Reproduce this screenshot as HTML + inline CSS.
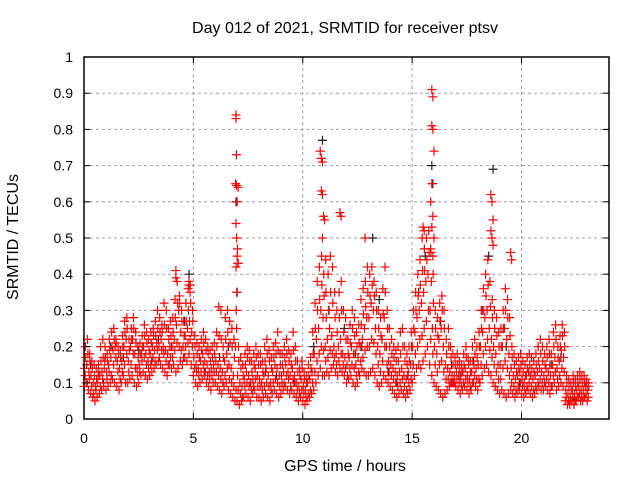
<!DOCTYPE html>
<html><head><meta charset="utf-8"><style>
html,body{margin:0;padding:0;background:#fff}
svg{display:block;font-family:"Liberation Sans",sans-serif}
</style></head><body>
<svg id="chart" width="640" height="480" viewBox="0 0 640 480">
<rect width="640" height="480" fill="#fff"/>
<g id="grid"></g>
<g id="black"></g>
<g id="red"></g>
<g id="axes"></g>
<text x="345" y="33" font-size="16" text-anchor="middle" fill="#000">Day 012 of 2021, SRMTID for receiver ptsv</text>
<text x="345" y="471" font-size="16" text-anchor="middle" fill="#000">GPS time / hours</text>
<text x="18" y="237" font-size="16" text-anchor="middle" fill="#000" transform="rotate(-90 18 237)">SRMTID / TECUs</text>
</svg>
<script>
const xTicks=[0,5,10,15,20];
const yTicks=[0,0.1,0.2,0.3,0.4,0.5,0.6,0.7,0.8,0.9,1];
const yTickLabels=["0","0.1","0.2","0.3","0.4","0.5","0.6","0.7","0.8","0.9","1"];
const slotStep=0.1;
const redLo=[.09,.1,.08,.07,.06,.05,.06,.07,.08,.09,
.08,.09,.1,.11,.1,.09,.08,.1,.12,.1,
.1,.11,.12,.1,.09,.1,.12,.13,.12,.11,
.12,.13,.14,.15,.16,.15,.14,.13,.12,.15,
.14,.15,.13,.14,.16,.15,.17,.16,.18,.15,
.12,.1,.09,.1,.11,.12,.1,.09,.08,.1,
.1,.09,.08,.07,.09,.1,.08,.07,.06,.05,
.05,.04,.05,.06,.07,.06,.05,.07,.08,.06,
.06,.05,.06,.07,.06,.05,.07,.08,.07,.06,
.07,.08,.09,.08,.07,.08,.07,.06,.05,.06,
.05,.04,.05,.06,.07,.08,.1,.12,.14,.12,
.12,.13,.12,.14,.15,.13,.12,.14,.13,.12,
.1,.11,.12,.1,.09,.1,.12,.14,.13,.12,
.12,.13,.14,.12,.1,.09,.1,.12,.11,.1,
.09,.08,.07,.06,.07,.08,.07,.06,.07,.08,
.1,.12,.14,.15,.14,.16,.18,.2,.15,.12,
.1,.09,.08,.07,.06,.07,.08,.09,.1,.1,
.09,.08,.07,.08,.09,.08,.07,.08,.1,.09,
.08,.1,.12,.14,.15,.13,.12,.1,.09,.08,
.07,.08,.07,.06,.07,.08,.07,.06,.07,.08,
.07,.06,.07,.08,.07,.06,.07,.08,.09,.08,
.08,.09,.08,.07,.09,.1,.08,.09,.1,.09,
.05,.04,.04,.05,.04,.05,.06,.05,.05,.06,.05];
const redQ1=[.12,.1,.11,.09,.07,.08,.12,.09,.11,.16,
.11,.13,.12,.15,.17,.13,.11,.13,.15,.18,
.13,.15,.18,.14,.12,.13,.16,.17,.15,.14,
.15,.17,.16,.19,.17,.19,.18,.16,.15,.17,
.17,.19,.21,.2,.19,.17,.2,.21,.22,.2,
.14,.13,.12,.13,.15,.13,.12,.11,.12,.13,
.13,.12,.11,.1,.12,.14,.11,.1,.09,.08,
.08,.07,.06,.09,.1,.09,.08,.09,.11,.09,
.09,.08,.09,.1,.09,.08,.1,.11,.1,.09,
.1,.1,.12,.11,.09,.11,.1,.08,.07,.08,
.07,.06,.07,.08,.1,.13,.16,.18,.2,.19,
.16,.17,.19,.18,.17,.15,.16,.18,.15,.14,
.12,.14,.15,.14,.12,.13,.16,.17,.19,.2,
.2,.22,.21,.18,.15,.13,.16,.2,.15,.13,
.12,.11,.1,.09,.1,.11,.09,.08,.1,.11,
.15,.18,.2,.22,.23,.25,.27,.3,.22,.18,
.15,.13,.15,.16,.13,.11,.11,.1,.1,.1,
.11,.1,.09,.1,.11,.1,.09,.1,.12,.11,
.11,.15,.18,.2,.22,.19,.17,.15,.13,.11,
.11,.14,.16,.14,.12,.1,.09,.08,.09,.1,
.09,.08,.09,.1,.09,.08,.09,.1,.11,.1,
.1,.11,.1,.09,.12,.13,.11,.12,.14,.13,
.06,.05,.05,.06,.05,.06,.07,.06,.06,.07,.06];
const redMid=[.14,.15,.13,.12,.1,.09,.1,.12,.13,.14,
.13,.15,.17,.19,.2,.16,.14,.16,.2,.22,
.16,.2,.22,.18,.14,.15,.18,.2,.18,.16,
.18,.2,.19,.21,.2,.22,.2,.19,.18,.2,
.2,.22,.26,.3,.24,.2,.23,.25,.27,.24,
.17,.15,.14,.16,.18,.16,.15,.13,.14,.15,
.16,.15,.14,.13,.16,.18,.15,.14,.12,.2,
.12,.1,.09,.11,.13,.12,.1,.11,.14,.12,
.11,.1,.12,.14,.12,.1,.13,.15,.14,.12,
.12,.13,.15,.13,.12,.14,.12,.1,.09,.11,
.09,.08,.1,.11,.13,.18,.22,.25,.3,.28,
.2,.22,.25,.23,.2,.18,.2,.22,.18,.17,
.15,.17,.2,.18,.15,.17,.2,.22,.25,.28,
.28,.32,.3,.25,.2,.18,.22,.28,.2,.16,
.15,.14,.13,.12,.13,.14,.12,.11,.13,.15,
.2,.24,.28,.3,.32,.35,.38,.4,.3,.25,
.2,.18,.22,.25,.2,.15,.14,.13,.12,.12,
.13,.12,.11,.13,.14,.12,.11,.13,.15,.14,
.15,.2,.24,.28,.3,.25,.22,.2,.18,.15,
.15,.2,.25,.22,.18,.14,.12,.11,.12,.13,
.11,.1,.12,.13,.12,.11,.12,.13,.14,.13,
.12,.14,.13,.12,.15,.17,.14,.16,.19,.17,
.08,.07,.06,.08,.07,.08,.09,.08,.08,.09,.08];
const redQ3=[.17,.18,.16,.14,.12,.11,.13,.16,.17,.17,
.16,.19,.2,.22,.21,.18,.17,.2,.24,.25,
.19,.22,.25,.21,.17,.18,.2,.23,.21,.19,
.21,.23,.23,.25,.24,.24,.26,.25,.22,.23,
.24,.28,.32,.32,.27,.23,.27,.3,.32,.27,
.2,.18,.17,.19,.21,.19,.18,.16,.17,.18,
.2,.23,.22,.17,.22,.24,.21,.2,.17,.25,
.16,.14,.12,.15,.17,.16,.13,.15,.17,.15,
.15,.13,.16,.18,.16,.14,.17,.18,.19,.15,
.15,.17,.18,.16,.15,.19,.16,.13,.12,.14,
.11,.1,.12,.14,.18,.25,.3,.33,.37,.34,
.28,.3,.35,.32,.28,.24,.28,.3,.24,.22,
.18,.21,.25,.23,.2,.21,.26,.29,.31,.35,
.34,.37,.34,.3,.25,.23,.29,.35,.25,.2,
.18,.17,.16,.16,.18,.2,.16,.15,.16,.2,
.25,.3,.34,.37,.41,.41,.44,.46,.38,.32,
.25,.23,.27,.3,.25,.18,.2,.17,.15,.15,
.15,.14,.13,.15,.17,.15,.13,.16,.18,.17,
.2,.25,.3,.34,.37,.31,.28,.25,.23,.2,
.2,.25,.3,.28,.23,.17,.15,.13,.14,.15,
.13,.12,.14,.15,.14,.13,.15,.16,.18,.16,
.15,.17,.18,.15,.2,.22,.17,.2,.23,.2,
.1,.09,.08,.1,.09,.1,.11,.1,.1,.1,.09];
const redHi=[.2,.22,.18,.16,.15,.14,.15,.2,.22,.2,
.18,.22,.24,.25,.22,.2,.19,.23,.27,.28,
.22,.25,.28,.24,.2,.21,.23,.26,.24,.22,
.24,.25,.27,.3,.28,.26,.32,.3,.25,.27,
.28,.33,.38,.34,.3,.27,.32,.36,.37,.3,
.23,.21,.2,.22,.24,.22,.2,.19,.2,.21,
.24,.31,.3,.2,.28,.3,.27,.25,.22,.3,
.2,.17,.15,.18,.2,.19,.16,.18,.2,.18,
.18,.16,.2,.22,.19,.17,.2,.21,.24,.18,
.18,.2,.22,.19,.18,.24,.2,.16,.14,.16,
.13,.12,.15,.17,.24,.32,.38,.42,.45,.4,
.35,.4,.45,.42,.35,.3,.35,.38,.3,.28,
.22,.26,.3,.28,.24,.26,.33,.36,.38,.42,
.4,.42,.38,.35,.3,.28,.36,.42,.3,.25,
.22,.2,.19,.2,.24,.25,.2,.18,.2,.24,
.3,.35,.4,.44,.5,.47,.5,.52,.46,.4,
.3,.28,.32,.34,.3,.22,.25,.2,.18,.17,
.18,.16,.15,.18,.2,.17,.16,.2,.22,.2,
.24,.3,.36,.4,.44,.38,.33,.3,.28,.24,
.25,.3,.36,.33,.28,.2,.18,.16,.17,.18,
.16,.15,.17,.18,.17,.16,.18,.2,.22,.2,
.18,.2,.22,.18,.24,.26,.2,.23,.26,.24,
.12,.11,.1,.12,.11,.12,.13,.12,.12,.11,.1];
const spikeT=[4.2,4.2,4.8,4.8,4.85,6.95,6.95,6.97,6.93,6.97,7.0,6.95,6.98,7.02,7.0,7.03,6.95,6.98,7.05,7.05,
10.8,10.85,10.9,10.85,10.9,10.95,11.0,10.9,11.05,11.7,11.75,12.85,
15.5,15.55,15.9,15.95,15.9,15.95,16.0,15.9,15.85,15.95,15.9,16.0,15.85,15.95,
18.6,18.65,18.7,18.6,18.65,18.7,19.5,19.55];
const spikeV=[0.41,0.39,0.38,0.37,0.35,0.84,0.83,0.73,0.65,0.645,0.6,0.54,0.5,0.47,0.45,0.43,0.42,0.35,0.64,0.43,
0.74,0.72,0.71,0.63,0.62,0.56,0.55,0.5,0.44,0.57,0.56,0.5,
0.53,0.52,0.91,0.89,0.81,0.8,0.74,0.65,0.6,0.56,0.53,0.5,0.47,0.45,
0.62,0.6,0.55,0.52,0.5,0.48,0.46,0.44];
const blackT=[0.3,0.9,1.2,1.8,2.5,3.1,3.4,4.0,4.6,4.8,5.5,6.2,6.6,6.95,7.0,7.6,8.3,8.8,9.6,10.5,10.9,11.2,11.9,12.4,12.7,13.2,13.5,13.9,14.3,14.8,15.3,15.6,15.9,15.95,16.3,16.8,17.2,17.8,18.2,18.5,18.7,19.3,19.9,20.4,21.3,21.8,22.4];
const blackV=[0.15,0.1,0.2,0.17,0.19,0.16,0.22,0.2,0.27,0.4,0.13,0.17,0.2,0.6,0.35,0.1,0.13,0.12,0.1,0.2,0.77,0.3,0.25,0.18,0.2,0.5,0.33,0.13,0.1,0.12,0.35,0.45,0.7,0.65,0.27,0.15,0.12,0.16,0.3,0.45,0.69,0.2,0.1,0.12,0.15,0.17,0.05];

const X0=84,X1=609,Y0=419,Y1=57;
const xs=t=>X0+(t/24)*(X1-X0);
const ys=v=>Y0-v*(Y0-Y1);
const NS='http://www.w3.org/2000/svg';
function mk(tag,attrs,parent){const e=document.createElementNS(NS,tag);for(const k in attrs)e.setAttribute(k,attrs[k]);parent.appendChild(e);return e;}
const grid=document.getElementById('grid'),axes=document.getElementById('axes');
xTicks.forEach(t=>{
  if(t>0){const l=mk('line',{x1:xs(t),x2:xs(t),y1:Y0,y2:Y1,stroke:'#a0a0a0','stroke-width':1,'stroke-dasharray':'3,3'},grid);
  
  }
  const a=mk('line',{x1:xs(t),x2:xs(t),y1:Y0,y2:Y0-6,stroke:'#000'},axes);
  
  
  const b=mk('line',{x1:xs(t),x2:xs(t),y1:Y1,y2:Y1+6,stroke:'#000'},axes);
  
  
  const tx=mk('text',{x:xs(t),y:443,'font-size':14,'text-anchor':'middle'},axes);tx.textContent=String(t);
  
  
});
yTicks.forEach((v,i)=>{
  if(i>0&&i<yTicks.length-1){const l=mk('line',{x1:X0,x2:X1,y1:ys(v),y2:ys(v),stroke:'#a0a0a0','stroke-width':1,'stroke-dasharray':'3,3'},grid);
  
  }
  const a=mk('line',{x1:X0,x2:X0+6,y1:ys(v),y2:ys(v),stroke:'#000'},axes);
  
  
  const b=mk('line',{x1:X1,x2:X1-6,y1:ys(v),y2:ys(v),stroke:'#000'},axes);
  
  
  const tx=mk('text',{x:73,y:ys(v)+5,'font-size':14,'text-anchor':'end'},axes);tx.textContent=yTickLabels[i];
  
  
});
const frame=mk('rect',{x:X0,y:Y1,width:X1-X0,height:Y0-Y1,fill:'none',stroke:'#000','stroke-width':1.5},axes);


function plus(g,t,v,col){
  const x=xs(t),y=ys(v);
  const p=mk('path',{d:`M${x-4.5},${y}H${x+4.5}M${x},${y-4.5}V${y+4.5}`,stroke:col,'stroke-width':1.2,fill:'none'},g);
  
  
}
const bg=document.getElementById('black'),rg=document.getElementById('red');
blackT.forEach((t,i)=>plus(bg,t,blackV[i],'#202020'));
redLo.forEach((v,i)=>plus(rg,i*slotStep,v,'#ff0000'));
redQ1.forEach((v,i)=>plus(rg,i*slotStep+0.05,v,'#ff0000'));
redMid.forEach((v,i)=>plus(rg,i*slotStep+0.025,v,'#ff0000'));
redQ3.forEach((v,i)=>plus(rg,i*slotStep+0.075,v,'#ff0000'));
redHi.forEach((v,i)=>plus(rg,i*slotStep+0.06,v,'#ff0000'));
spikeT.forEach((t,i)=>plus(rg,t,spikeV[i],'#ff0000'));
</script>
</body></html>
